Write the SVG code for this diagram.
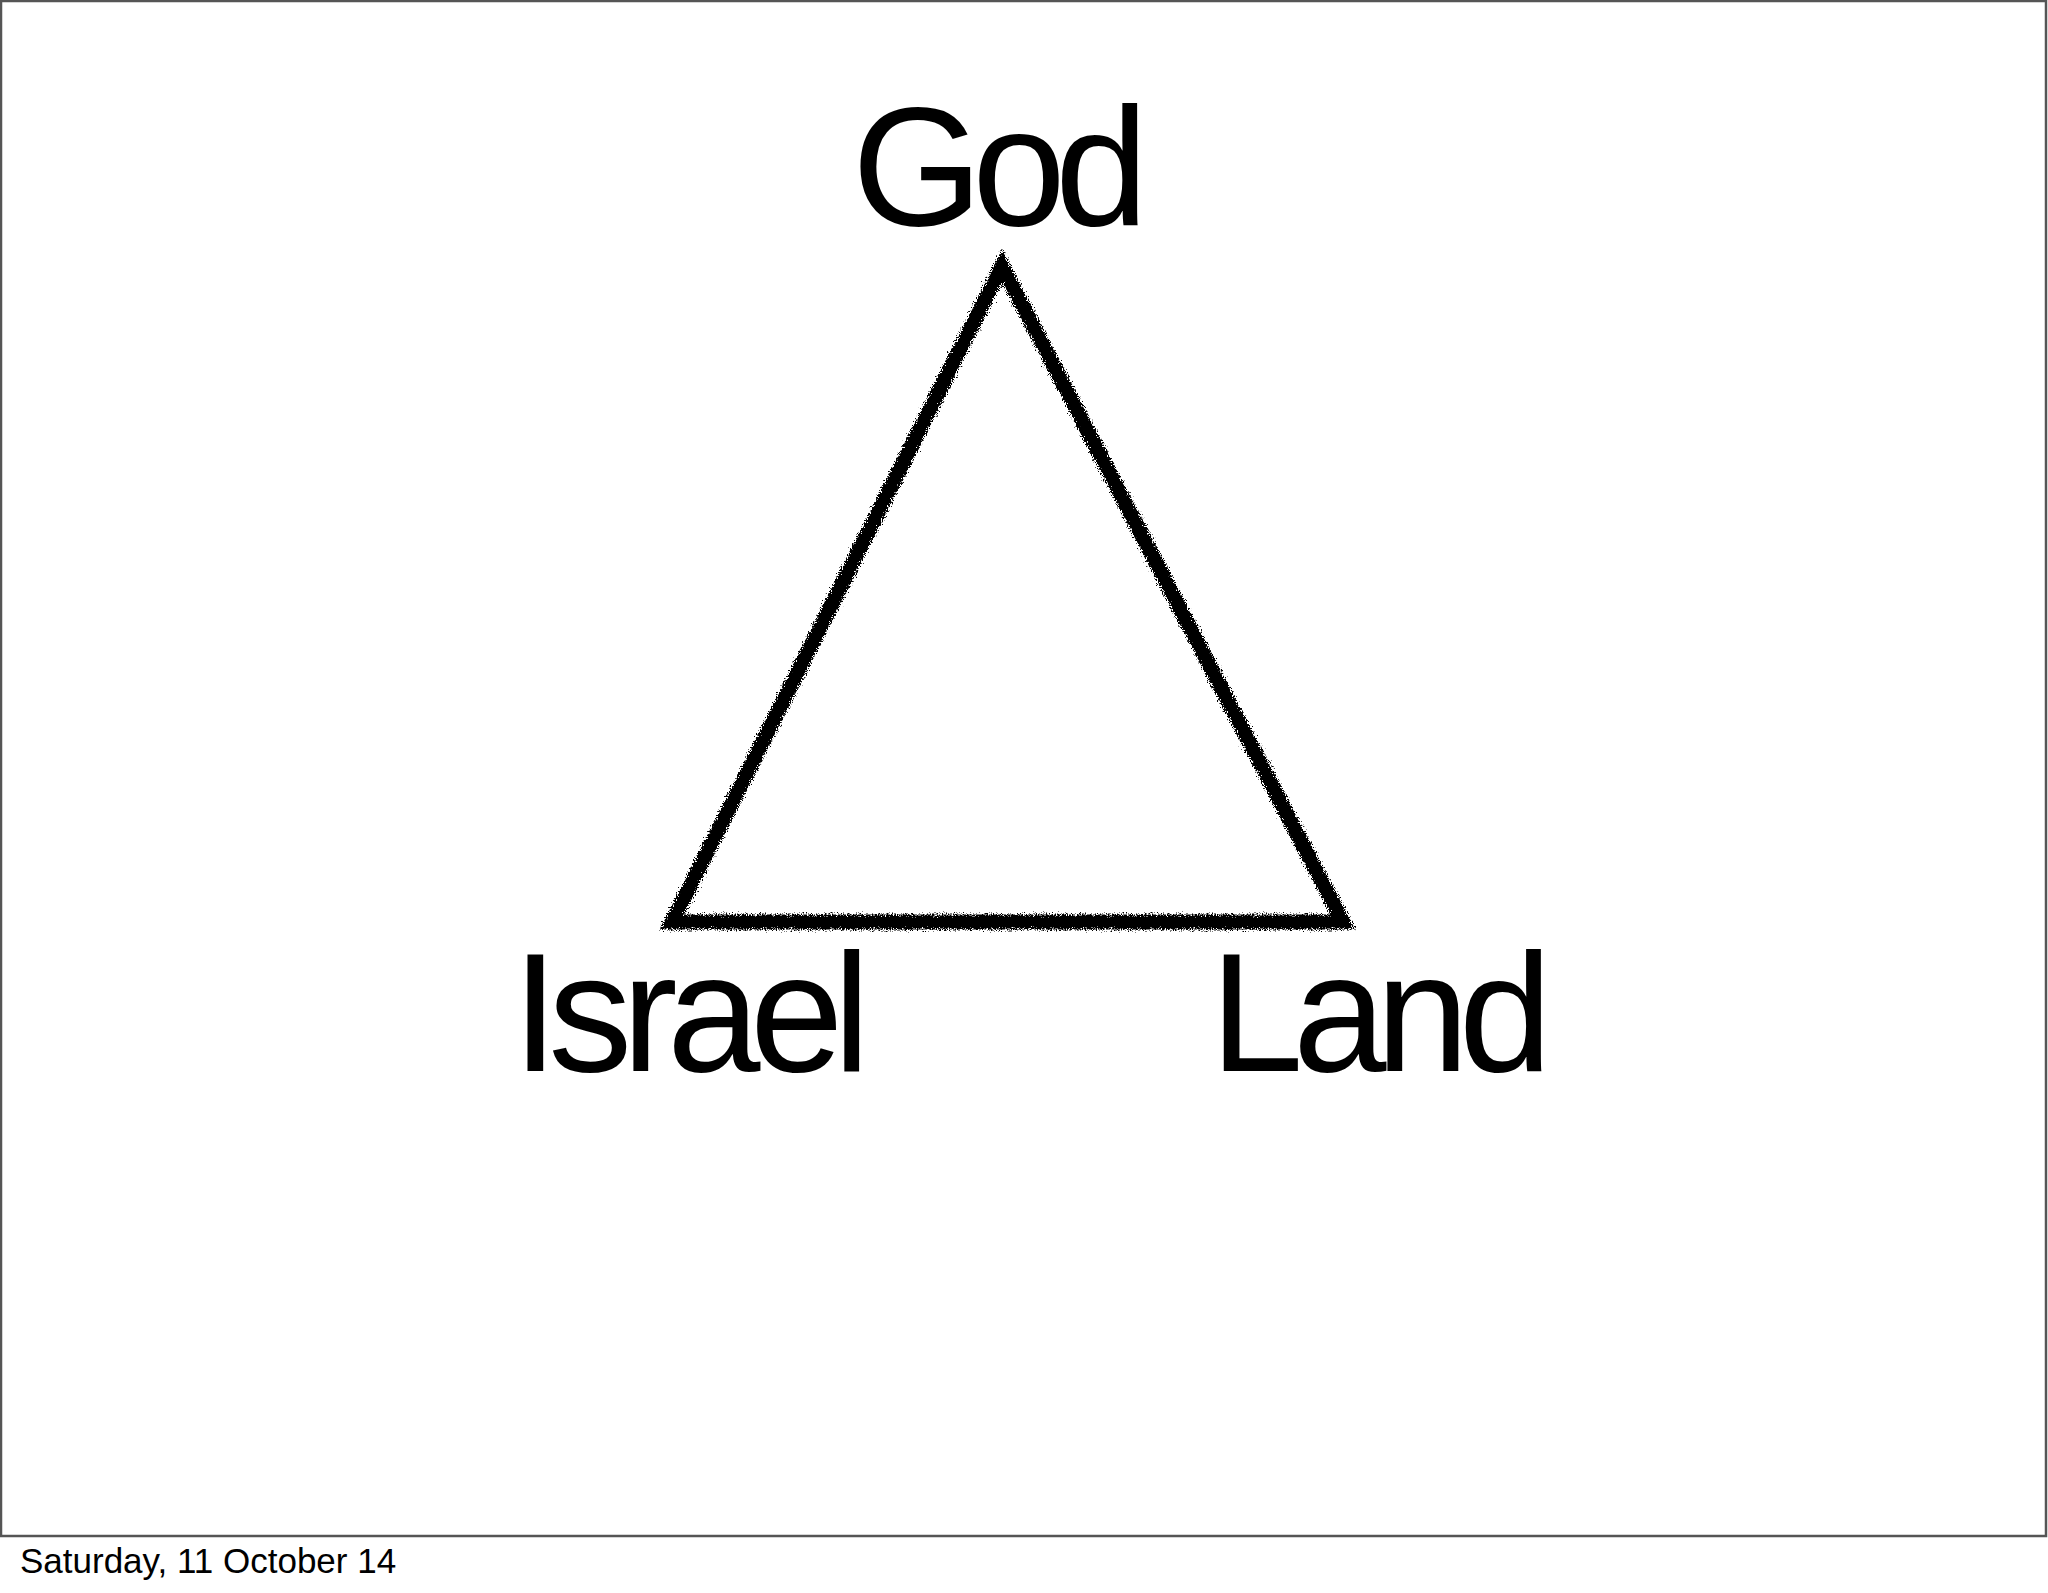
<svg xmlns="http://www.w3.org/2000/svg" width="2048" height="1593" viewBox="0 0 2048 1593">
<style>
.big{font-family:"Liberation Sans",Arial,sans-serif;font-size:168px;fill:#000;letter-spacing:-10.5px}
.date{font-family:"Liberation Sans",Arial,sans-serif;font-size:35px;fill:#000}
</style>
<defs>
<filter id="chalk" x="-5%" y="-5%" width="110%" height="110%">
<feTurbulence type="fractalNoise" baseFrequency="0.8" numOctaves="2" seed="3" result="n"/>
<feDisplacementMap in="SourceGraphic" in2="n" scale="10" xChannelSelector="R" yChannelSelector="G"/>
</filter>
</defs>
<rect x="0" y="0" width="2048" height="1593" fill="#fff"/>
<rect x="1" y="1" width="2045" height="1535" fill="none" stroke="#555" stroke-width="2.5"/>
<g id="connectors">
<polygon points="1002,266 1343,922 672,922" fill="none" stroke="#000" stroke-width="15" stroke-linejoin="miter" filter="url(#chalk)"/>
</g>
<g id="god"><text class="big" x="852" y="225">God</text></g>
<g id="israel"><text class="big" x="512" y="1071">Israel</text></g>
<g id="land"><text class="big" x="1210" y="1071">Land</text></g>
<g id="date"><text class="date" x="20" y="1573">Saturday, 11 October 14</text></g>
</svg>
